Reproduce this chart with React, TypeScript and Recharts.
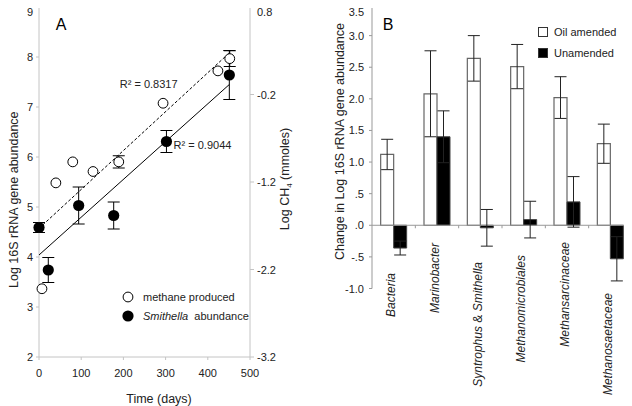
import {
  Bar,
  BarChart,
  ComposedChart,
  ErrorBar,
  Legend,
  ReferenceLine,
  Scatter,
  XAxis,
  YAxis,
} from "recharts";

// ---- panel A: methane and Smithella over time ----
const CH4_DAYS = [7, 40, 80, 128, 189, 294, 424, 452];
const CH4_LOG = [-2.42, -1.21, -0.97, -1.08, -0.97, -0.3, 0.07, 0.21];
const CH4_ERR = [0, 0, 0, 0, 0.07, 0, 0, 0.09];

const SMITH_DAYS = [0, 22, 94, 177, 302, 451];
const SMITH_LOG = [4.59, 3.74, 5.03, 4.83, 6.31, 7.64];
const SMITH_ERR = [0.1, 0.25, 0.37, 0.27, 0.22, 0.49];

// fitted trend lines (end points)
const CH4_FIT_DAYS = [0, 452];
const CH4_FIT = [-1.73, 0.28];
const SMITH_FIT_DAYS = [0, 451];
const SMITH_FIT = [4.04, 7.45];

const R2_CH4 = "R² = 0.8317";
const R2_SMITH = "R² = 0.9044";

const DAY_TICKS = [0, 100, 200, 300, 400, 500];
const ABUND_TICKS = [2, 3, 4, 5, 6, 7, 8, 9];
const CH4_TICKS = [-3.2, -2.2, -1.2, -0.2, 0.8];

// ---- panel B: change in abundance per taxon ----
const TAXA = [
  "Bacteria",
  "Marinobacter",
  "Syntrophus & Smithella",
  "Methanomicrobiales",
  "Methansarcinaceae",
  "Methanosaetaceae",
];
const OIL = [1.12, 2.08, 2.64, 2.51, 2.02, 1.29];
const OIL_ERR = [0.24, 0.68, 0.36, 0.35, 0.33, 0.31];
const UNAMENDED = [-0.36, 1.4, -0.04, 0.09, 0.37, -0.53];
const UNAMENDED_ERR = [0.11, 0.41, 0.29, 0.29, 0.4, 0.35];
const CHANGE_TICKS = [-1, -0.5, 0, 0.5, 1, 1.5, 2, 2.5, 3, 3.5];

const methane = CH4_DAYS.map((day, i) => ({ day, v: CH4_LOG[i], err: CH4_ERR[i] }));
const smithella = SMITH_DAYS.map((day, i) => ({ day, v: SMITH_LOG[i], err: SMITH_ERR[i] }));
const ch4Fit = CH4_FIT_DAYS.map((day, i) => ({ day, v: CH4_FIT[i] }));
const smithFit = SMITH_FIT_DAYS.map((day, i) => ({ day, v: SMITH_FIT[i] }));

const taxa = TAXA.map((name, i) => ({
  name,
  oil: OIL[i],
  oilErr: OIL_ERR[i],
  unamended: UNAMENDED[i],
  unamendedErr: UNAMENDED_ERR[i],
}));

const FONT = "'Liberation Sans', Arial, sans-serif";
const INK = "#222";
const AXIS_A = "#c4c4c4";
const AXIS_B = "#999";
const tick = { fontSize: 11, fill: INK, fontFamily: FONT };

// layout of panel B, used by the category ticks
const B_TOP = 4;
const B_XAXIS_H = 117.5;
const B_PLOT_H = 406 - B_TOP - B_XAXIS_H;
const B_BOTTOM = B_TOP + B_PLOT_H;
const ZERO_Y = B_TOP + (B_PLOT_H * 3.5) / 4.5;
const HALF_BAND = 260 / 6 / 2;
const LABEL_LIFT = [15.5, 45.5, 26.5, 33.5, 46.5, -4.5];

// the page clips the outer 8px band, so keep the top tick labels readable
const valueTick = (fmt: (v: number) => string) => (p: any) => (
  <text
    x={p.x}
    y={Math.max(p.y, 12)}
    textAnchor={p.textAnchor}
    dominantBaseline="central"
    fontSize={11}
    fontFamily={FONT}
    fill={INK}
  >
    {fmt(p.payload.value)}
  </text>
);

function AxisTitle({ viewBox, cx, cy, children }: any) {
  const { x, y, width, height } = viewBox;
  return (
    <text
      transform={`translate(${x + cx(width)},${y + height / 2 + cy}) rotate(-90)`}
      textAnchor="middle"
      dominantBaseline="central"
      fontSize={12.5}
      fontFamily={FONT}
      fill={INK}
    >
      {children}
    </text>
  );
}

function TimeTitle({ viewBox }: any) {
  const { x, width } = viewBox;
  return (
    <text
      x={x + width / 2 + 14.5}
      y={398.5}
      textAnchor="middle"
      dominantBaseline="central"
      fontSize={12.5}
      fontFamily={FONT}
      fill={INK}
    >
      Time (days)
    </text>
  );
}

const openDot = (p: any) => (
  <circle cx={p.cx} cy={p.cy} r={4.9} fill="#fff" stroke="#000" strokeWidth={1} />
);
const filledDot = (p: any) => <circle cx={p.cx} cy={p.cy} r={5.6} fill="#000" />;
const noDot = () => <g />;

function LegendA() {
  const row = { display: "flex", alignItems: "center", height: 18.4 };
  return (
    <div style={{ fontFamily: FONT, fontSize: 11, color: INK }}>
      <div style={row}>
        <svg width={12} height={12} style={{ marginRight: 9 }}>
          <circle cx={6} cy={6} r={4.9} fill="#fff" stroke="#000" />
        </svg>
        methane produced
      </div>
      <div style={row}>
        <svg width={12} height={12} style={{ marginRight: 9 }}>
          <circle cx={6} cy={6} r={5.6} fill="#000" />
        </svg>
        <i>Smithella</i>&nbsp; abundance
      </div>
    </div>
  );
}

function LegendB() {
  const row = { display: "flex", alignItems: "center", height: 21.6 };
  const box = (fill: string) => ({
    width: 8,
    height: 8,
    background: fill,
    border: "1px solid #333",
    marginRight: 6,
  });
  return (
    <div style={{ fontFamily: FONT, fontSize: 11, color: INK }}>
      <div style={row}>
        <span style={box("#fff")} />
        Oil amended
      </div>
      <div style={row}>
        <span style={box("#000")} />
        Unamended
      </div>
    </div>
  );
}

function TaxonTick({ x, payload, index }: any) {
  const name: string = payload.value;
  const parts = name.split(" & ");
  return (
    <g>
      {index > 0 && (
        <line
          x1={x - HALF_BAND}
          x2={x - HALF_BAND}
          y1={ZERO_Y}
          y2={ZERO_Y + 3}
          stroke={AXIS_B}
        />
      )}
      <text
        transform={`translate(${x - 2.5},${B_BOTTOM - LABEL_LIFT[index]}) rotate(-90)`}
        textAnchor="end"
        dominantBaseline="central"
        fontSize={12}
        fontStyle="italic"
        fontFamily={FONT}
        fill={INK}
      >
        {parts.length > 1 ? (
          <>
            <tspan>{parts[0]}</tspan>
            <tspan fontStyle="normal">{"  &  "}</tspan>
            <tspan>{parts[1]}</tspan>
          </>
        ) : (
          name
        )}
      </text>
    </g>
  );
}

const fmtPlain = (v: number) => String(v);
const fmtChange = (v: number) => v.toFixed(1).replace(/^(-?)0\./, "$1.");

export default function App() {
  return (
    <div
      style={{
        position: "relative",
        width: 632,
        height: 406,
        margin: "-8px -8px 0 -8px",
        overflow: "hidden",
        background: "#fff",
        fontFamily: FONT,
      }}
    >
      <div style={{ position: "absolute", left: 0, top: 0 }}>
        <ComposedChart width={300} height={406} margin={{ top: 7, right: 10, bottom: 0, left: 9 }}>
          <XAxis
            dataKey="day"
            type="number"
            domain={[0, 500]}
            ticks={DAY_TICKS}
            height={49}
            tick={tick}
            tickSize={3}
            tickMargin={9}
            stroke={AXIS_A}
            label={<TimeTitle />}
          />
          <YAxis
            yAxisId="left"
            domain={[2, 9]}
            ticks={ABUND_TICKS}
            width={30}
            tick={valueTick(fmtPlain)}
            tickSize={3}
            tickMargin={3}
            stroke={AXIS_A}
            label={
              <AxisTitle cx={() => 4.5} cy={17.7}>
                Log 16S rRNA gene abundance
              </AxisTitle>
            }
          />
          <YAxis
            yAxisId="right"
            orientation="right"
            domain={[-3.2, 0.8]}
            ticks={CH4_TICKS}
            width={40}
            tick={valueTick(fmtPlain)}
            tickSize={4}
            tickMargin={3}
            stroke={AXIS_A}
            label={
              <AxisTitle cx={(w: number) => w - 5} cy={-3}>
                Log CH
                <tspan baselineShift="sub" fontSize={8}>
                  4
                </tspan>{" "}
                (mmoles)
              </AxisTitle>
            }
          />
          <Scatter
            yAxisId="right"
            data={ch4Fit}
            dataKey="v"
            shape={noDot}
            line={{ stroke: "#000", strokeWidth: 1, strokeDasharray: "3 2" }}
            isAnimationActive={false}
          />
          <Scatter
            yAxisId="left"
            data={smithFit}
            dataKey="v"
            shape={noDot}
            line={{ stroke: "#000", strokeWidth: 1 }}
            isAnimationActive={false}
          />
          <Scatter yAxisId="right" data={methane} dataKey="v" shape={openDot} isAnimationActive={false}>
            <ErrorBar dataKey="err" direction="y" width={6} stroke="#000" strokeWidth={1} />
          </Scatter>
          <Scatter yAxisId="left" data={smithella} dataKey="v" shape={filledDot} isAnimationActive={false}>
            <ErrorBar dataKey="err" direction="y" width={6} stroke="#000" strokeWidth={1} />
          </Scatter>
          <Legend
            layout="vertical"
            align="center"
            verticalAlign="middle"
            wrapperStyle={{ left: 122, top: 288, width: 150 }}
            content={() => <LegendA />}
          />
        </ComposedChart>
      </div>

      <div style={{ position: "absolute", left: 320, top: 0 }}>
        <BarChart
          width={312}
          height={406}
          data={taxa}
          margin={{ top: B_TOP, right: 0, bottom: 0, left: 5 }}
          barCategoryGap="20%"
          barGap={0}
        >
          <XAxis
            dataKey="name"
            height={B_XAXIS_H}
            interval={0}
            axisLine={false}
            tickLine={false}
            tickSize={0}
            tickMargin={0}
            tick={<TaxonTick />}
          />
          <YAxis
            domain={[-1, 3.5]}
            ticks={CHANGE_TICKS}
            width={47}
            tick={valueTick(fmtChange)}
            tickSize={3}
            tickMargin={5}
            stroke={AXIS_B}
            label={
              <AxisTitle cx={() => 15} cy={-4.7}>
                Change in Log 16S rRNA gene abundance
              </AxisTitle>
            }
          />
          <ReferenceLine y={0} stroke={AXIS_B} />
          <Bar dataKey="oil" fill="#fff" stroke="#666" strokeWidth={1.2} isAnimationActive={false}>
            <ErrorBar dataKey="oilErr" width={6} stroke={INK} strokeWidth={1} />
          </Bar>
          <Bar dataKey="unamended" fill="#000" stroke="#444" strokeWidth={1} isAnimationActive={false}>
            <ErrorBar dataKey="unamendedErr" width={6} stroke={INK} strokeWidth={1} />
          </Bar>
          <Legend
            layout="vertical"
            align="center"
            verticalAlign="middle"
            wrapperStyle={{ left: 218, top: 21, width: 86 }}
            content={() => <LegendB />}
          />
        </BarChart>
      </div>

      <svg
        width={632}
        height={406}
        style={{ position: "absolute", left: 0, top: 0, pointerEvents: "none" }}
      >
        <g fontFamily={FONT} fill={INK} textAnchor="middle" dominantBaseline="central">
          <text x={61} y={24} fontSize={16} fill="#000">
            A
          </text>
          <text x={388} y={24} fontSize={16} fill="#000">
            B
          </text>
          <text x={148.7} y={84.3} fontSize={11}>
            {R2_CH4}
          </text>
          <text x={202.5} y={145} fontSize={11}>
            {R2_SMITH}
          </text>
        </g>
      </svg>
    </div>
  );
}
